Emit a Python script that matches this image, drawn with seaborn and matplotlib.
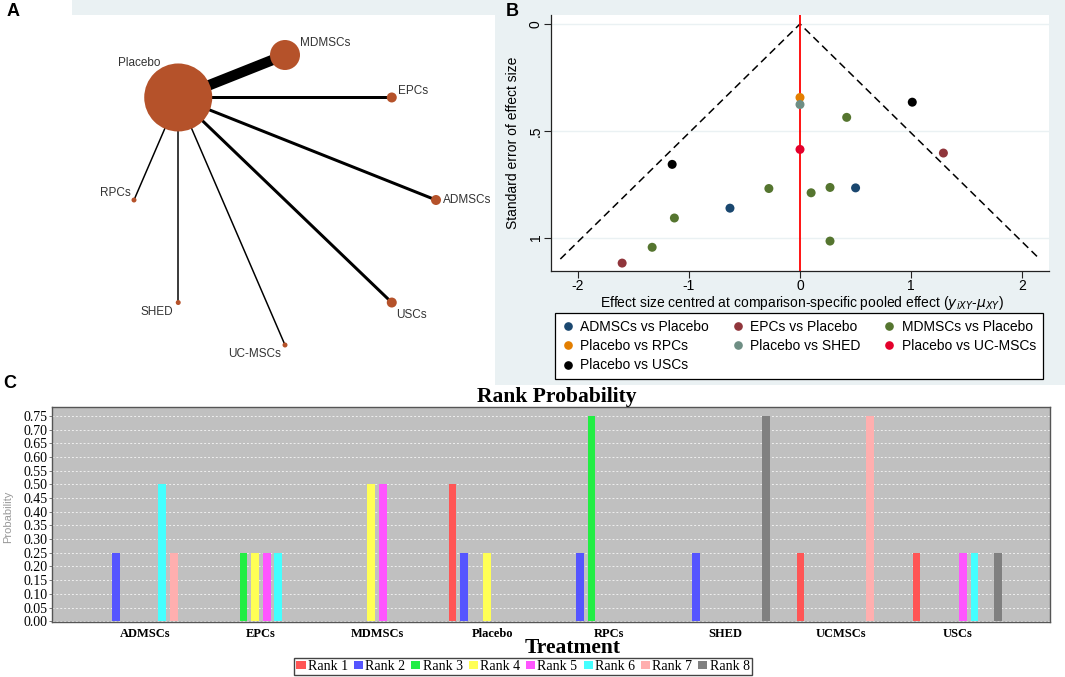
import numpy as np
import pandas as pd
import matplotlib
matplotlib.use("Agg")
import matplotlib.pyplot as plt
from matplotlib.patches import Rectangle
from matplotlib.lines import Line2D
import seaborn as sns

# ---------------- Panel A: network plot data ----------------
net_treatments = ["Placebo", "MDMSCs", "EPCs", "ADMSCs", "USCs", "UC-MSCs", "SHED", "RPCs"]
net_node_weight = [34, 15, 5, 5, 5, 2.5, 2.5, 2.5]          # relative node size
edge_targets = ["MDMSCs", "EPCs", "ADMSCs", "USCs", "UC-MSCs", "SHED", "RPCs"]
edge_studies = [7, 2, 2, 2, 1, 1, 1]                          # studies per comparison

# ---------------- Panel B: comparison-adjusted funnel plot data ----------------
funnel_comparison = (["ADMSCs vs Placebo"] * 2 + ["EPCs vs Placebo"] * 2 +
                     ["MDMSCs vs Placebo"] * 7 + ["Placebo vs RPCs", "Placebo vs SHED",
                      "Placebo vs UC-MSCs"] + ["Placebo vs USCs"] * 2)
funnel_effect = [0.50, -0.63, 1.29, -1.60,
                 0.42, -0.28, 0.10, 0.27, -1.13, 0.27, -1.33,
                 0.0, 0.0, 0.0, 1.01, -1.15]
funnel_se = [0.767, 0.862, 0.604, 1.119,
             0.437, 0.770, 0.790, 0.765, 0.908, 1.016, 1.045,
             0.344, 0.377, 0.587, 0.366, 0.657]
funnel_labels = ["ADMSCs vs Placebo", "EPCs vs Placebo", "MDMSCs vs Placebo",
                 "Placebo vs RPCs", "Placebo vs SHED", "Placebo vs UC-MSCs", "Placebo vs USCs"]
funnel_se_max = 1.1

# ---------------- Panel C: rank probability data ----------------
rank_treatments = ["ADMSCs", "EPCs", "MDMSCs", "Placebo", "RPCs", "SHED", "UCMSCs", "USCs"]
rank_names = ["Rank 1", "Rank 2", "Rank 3", "Rank 4", "Rank 5", "Rank 6", "Rank 7", "Rank 8"]
prob_ADMSCs = [0, 0.25, 0, 0, 0, 0.50, 0.25, 0]
prob_EPCs = [0, 0, 0.25, 0.25, 0.25, 0.25, 0, 0]
prob_MDMSCs = [0, 0, 0, 0.50, 0.50, 0, 0, 0]
prob_Placebo = [0.50, 0.25, 0, 0.25, 0, 0, 0, 0]
prob_RPCs = [0, 0.25, 0.75, 0, 0, 0, 0, 0]
prob_SHED = [0, 0.25, 0, 0, 0, 0, 0, 0.75]
prob_UCMSCs = [0.25, 0, 0, 0, 0, 0, 0.75, 0]
prob_USCs = [0.25, 0, 0, 0, 0.25, 0.25, 0, 0.25]
yticks_C = [round(0.05 * i, 2) for i in range(16)]

# ---------------- styles ----------------
W, H = 1065, 677
SANS = ["Liberation Sans", "DejaVu Sans"]
SERIF = ["Liberation Serif", "DejaVu Serif"]
node_color = "#b5522a"
funnel_palette = {"ADMSCs vs Placebo": "#1a476f", "EPCs vs Placebo": "#90353b",
                  "MDMSCs vs Placebo": "#55752f", "Placebo vs RPCs": "#e37e00",
                  "Placebo vs SHED": "#6e8e84", "Placebo vs UC-MSCs": "#e4002b",
                  "Placebo vs USCs": "#000000"}
rank_palette = ["#ff5555", "#5555ff", "#22ee44", "#ffff55", "#ff55ff", "#44ffff", "#ffafaf", "#808080"]
stata_bg = "#eaf1f3"

plt.rcParams["font.family"] = SANS


def fx(x):
    return x / W


def fy(y):
    return 1 - y / H


fig = plt.figure(figsize=(W / 100, H / 100), dpi=100)
fig.patch.set_facecolor("white")

# background regions
fig.patches.append(Rectangle((fx(72), fy(15)), fx(W - 72), 15 / H, transform=fig.transFigure,
                             facecolor=stata_bg, edgecolor="none", zorder=-10))
fig.patches.append(Rectangle((fx(495), fy(385)), fx(W - 495), 385 / H, transform=fig.transFigure,
                             facecolor=stata_bg, edgecolor="none", zorder=-10))

# ================= Panel A =================
axA = fig.add_axes([0, fy(370), fx(480), 370 / H])

cx, cy, Rx, Ry = 285, 200, 151, 145
angles = np.deg2rad(135 - 45 * np.arange(len(net_treatments)))
node_x = cx + Rx * np.cos(angles)
node_y = cy - Ry * np.sin(angles)
pos = {t: (node_x[i], node_y[i]) for i, t in enumerate(net_treatments)}

for tgt, n in zip(edge_targets, edge_studies):
    x0, y0 = pos["Placebo"]
    x1, y1 = pos[tgt]
    axA.plot([x0, x1], [y0, y1], color="black", lw=1.5 * n * 0.72,
             solid_capstyle="butt", zorder=1)

dfA = pd.DataFrame({"x": node_x, "y": node_y, "t": net_treatments,
                    "s": [(2 * r * 0.72) ** 2 for r in net_node_weight]})
sns.scatterplot(data=dfA, x="x", y="y", s=dfA["s"], color=node_color, edgecolor="none",
                linewidth=0, ax=axA, zorder=2, legend=False)
axA.set_xlim(0, 480)
axA.set_ylim(370, 0)
axA.axis("off")

label_style = {"Placebo": (-39, -34, "center"), "MDMSCs": (15, -12, "left"),
               "EPCs": (6, -6, "left"), "ADMSCs": (7, 0, "left"),
               "USCs": (4, 12, "left"), "UC-MSCs": (-4, 9, "right"),
               "SHED": (-5, 9, "right"), "RPCs": (-3, -7, "right")}
for t in net_treatments:
    dx, dy, ha = label_style[t]
    axA.text(pos[t][0] + dx, pos[t][1] + dy, t, ha=ha, va="center",
             fontsize=8.5, color="#333333", zorder=3)

# ================= Panel B =================
axB = fig.add_axes([fx(551), fy(271), (1049 - 551) / W, (271 - 15) / H])
axB.set_facecolor("white")
dfB = pd.DataFrame({"comparison": funnel_comparison, "effect": funnel_effect, "se": funnel_se})
for v in [0, 0.5, 1]:
    axB.axhline(v, color=stata_bg, lw=1.0, zorder=0)
se_line = np.array([funnel_se_max, 0, funnel_se_max])
axB.plot(1.96 * se_line * np.array([-1, 0, 1]), se_line, color="black", lw=1.1,
         ls=(0, (5, 3)), zorder=1)
axB.axvline(0, color="red", lw=1.3, zorder=2)
sns.scatterplot(data=dfB, x="effect", y="se", hue="comparison", palette=funnel_palette,
                hue_order=funnel_labels, s=42, linewidth=0, edgecolor="none",
                legend=False, ax=axB, zorder=3)
axB.set_xlim(-2.24, 2.24)
axB.set_ylim(1.156, -0.042)
for sp in ["top", "right"]:
    axB.spines[sp].set_visible(False)
for sp in ["left", "bottom"]:
    axB.spines[sp].set_color("#222222")
    axB.spines[sp].set_linewidth(0.9)
axB.set_yticks([0, 0.5, 1])
axB.set_yticklabels(["0", ".5", "1"], rotation=90, va="center", fontsize=10)
axB.set_xticks([-2, -1, 0, 1, 2])
axB.set_xticklabels(["-2", "-1", "0", "1", "2"], fontsize=10)
axB.tick_params(axis="both", length=5, width=0.8, color="#222222", pad=1)
axB.set_ylabel("Standard error of effect size", fontsize=10)
axB.yaxis.set_label_coords(-0.063, 0.5)
axB.set_xlabel(r"Effect size centred at comparison-specific pooled effect ($y_{iXY}$-$\mu_{XY}$)",
               fontsize=10)
axB.xaxis.set_label_coords(0.503, -0.088)

legend_order = ["ADMSCs vs Placebo", "Placebo vs RPCs", "Placebo vs USCs",
                "EPCs vs Placebo", "Placebo vs SHED",
                "MDMSCs vs Placebo", "Placebo vs UC-MSCs"]
handlesB = [Line2D([], [], marker="o", ls="", color=funnel_palette[l], markersize=5.2)
            for l in legend_order]
legB = fig.legend(handlesB, legend_order, loc="upper left",
                  bbox_to_anchor=(fx(555), fy(380), (1043 - 555) / W, (380 - 313) / H),
                  mode="expand", ncol=3, fontsize=10, frameon=True, fancybox=False,
                  edgecolor="black", framealpha=1, handlelength=0.8, handletextpad=0.5,
                  labelspacing=0.38, borderpad=0.5, columnspacing=1.5, borderaxespad=0)
legB.get_frame().set_linewidth(0.9)

# ================= Panel C =================
axC = fig.add_axes([fx(52), fy(622), (1050 - 52) / W, (622 - 407) / H])
axC.set_facecolor("#c0c0c0")
rowsC = []
prob_lists = [prob_ADMSCs, prob_EPCs, prob_MDMSCs, prob_Placebo, prob_RPCs, prob_SHED,
              prob_UCMSCs, prob_USCs]
for t, plist in zip(rank_treatments, prob_lists):
    for r, p in zip(rank_names, plist):
        rowsC.append({"treatment": t, "rank": r, "prob": p})
dfC = pd.DataFrame(rowsC)
sns.barplot(data=dfC, x="treatment", y="prob", hue="rank", order=rank_treatments,
            hue_order=rank_names, palette=rank_palette, errorbar=None, width=0.8, gap=0.34,
            saturation=1, linewidth=0, legend=False, ax=axC, zorder=2)
axC.set_xlim(-0.8, 7.8)
axC.set_ylim(-0.003, 0.783)
axC.set_yticks(yticks_C)
axC.set_yticklabels([f"{v:.2f}" for v in yticks_C], fontsize=10, family=SERIF)
axC.set_xticks(range(len(rank_treatments)))
axC.set_xticklabels(rank_treatments, fontsize=9, family=SERIF, fontweight="bold")
axC.tick_params(axis="x", length=0, pad=4)
axC.tick_params(axis="y", length=2, width=0.6, color="#666666", pad=1)
axC.yaxis.grid(True, color="white", lw=0.7, ls=(0, (2, 2)), alpha=0.75, zorder=0)
axC.set_axisbelow(True)
axC.set_xlabel("")
axC.set_ylabel("")
for sp in axC.spines.values():
    sp.set_color("#555555")
    sp.set_linewidth(1.0)

fig.text(fx(557), fy(397), "Rank Probability", ha="center", va="center", fontsize=15.5,
         fontweight="bold", family=SERIF)
fig.text(fx(573), fy(648), "Treatment", ha="center", va="center", fontsize=15.5,
         fontweight="bold", family=SERIF)
fig.text(fx(8), fy(517), "Probability", ha="center", va="center", rotation=90,
         fontsize=8, color="#999999")

handlesC = [Rectangle((0, 0), 1, 1, facecolor=c, edgecolor="none") for c in rank_palette]
legC = fig.legend(handlesC, rank_names, loc="center", bbox_to_anchor=(fx(523), fy(666.5)),
                  ncol=8, prop={"family": SERIF, "size": 10}, frameon=True, fancybox=False,
                  edgecolor="#444444", framealpha=1, handlelength=0.65, handleheight=0.45,
                  handletextpad=0.15, columnspacing=0.45, borderpad=0.15, borderaxespad=0)
legC.get_frame().set_linewidth(1.0)

# panel letters
fig.text(fx(13), fy(12), "A", ha="center", va="center", fontsize=13, fontweight="bold")
fig.text(fx(512), fy(11), "B", ha="center", va="center", fontsize=13, fontweight="bold")
fig.text(fx(10), fy(384), "C", ha="center", va="center", fontsize=13, fontweight="bold")

fig.savefig("out.png", dpi=100)
